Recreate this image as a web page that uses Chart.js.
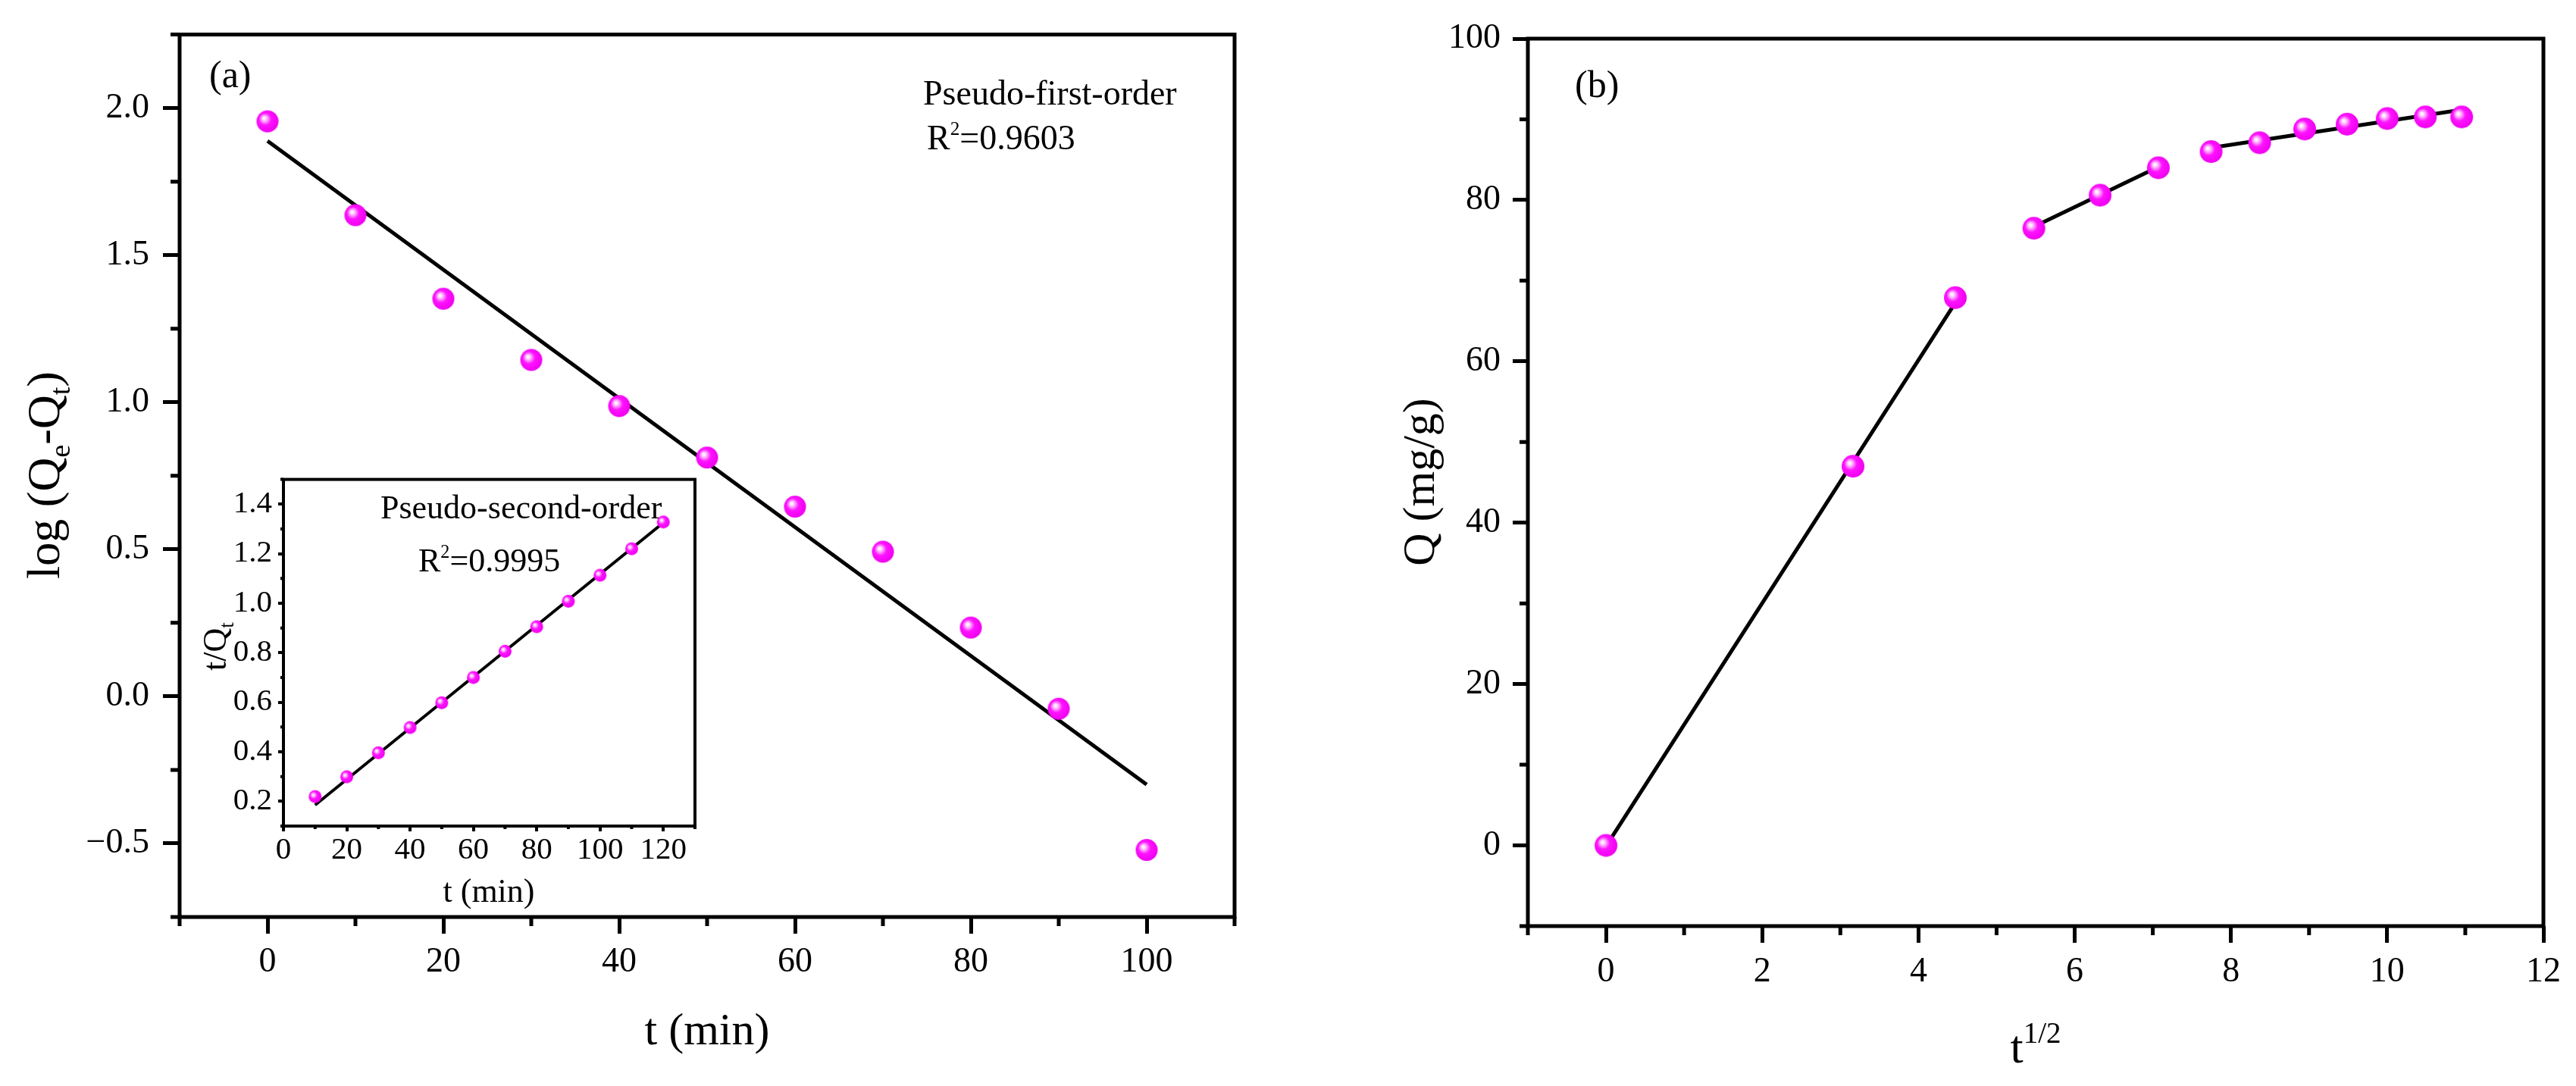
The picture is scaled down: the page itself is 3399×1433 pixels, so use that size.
<!DOCTYPE html>
<html><head><meta charset="utf-8">
<script src="https://cdn.jsdelivr.net/npm/chart.js@4.4.1/dist/chart.umd.min.js"></script>
<style>
html,body{margin:0;padding:0;background:#fff;width:3399px;height:1433px;overflow:hidden;position:relative}
canvas{position:absolute;display:block}
</style></head><body>
<canvas id="ca" width="1700" height="1433" style="left:0;top:0"></canvas>
<canvas id="cb" width="1699" height="1433" style="left:1700px;top:0"></canvas>
<canvas id="ci" width="700" height="620" style="left:250px;top:600px"></canvas>
<script>
// ---------- data: panel (a) pseudo-first-order ----------
const tA = [0, 10, 20, 30, 40, 50, 60, 70, 80, 90, 100];
const logQA = [1.955, 1.636, 1.352, 1.144, 0.987, 0.812, 0.645, 0.492, 0.234, -0.042, -0.522];
const fitAx = [0, 100];
const fitAy = [1.888, -0.30];
const xTicksA = [0, 20, 40, 60, 80, 100];
const yTicksA = [-0.5, 0, 0.5, 1.0, 1.5, 2.0];
const xMinorA = [-10, 10, 30, 50, 70, 90, 110];
const yMinorA = [-0.75, -0.25, 0.25, 0.75, 1.25, 1.75, 2.25];

// ---------- data: inset pseudo-second-order ----------
const tIn = [10, 20, 30, 40, 50, 60, 70, 80, 90, 100, 110, 120];
const tOverQ = [0.219, 0.299, 0.396, 0.498, 0.598, 0.700, 0.806, 0.905, 1.008, 1.113, 1.220, 1.328];
const fitInX = [10, 120];
const fitInY = [0.185, 1.325];
const xTicksIn = [0, 20, 40, 60, 80, 100, 120];
const yTicksIn = [0.2, 0.4, 0.6, 0.8, 1.0, 1.2, 1.4];
const xMinorIn = [10, 30, 50, 70, 90, 110, 130];
const yMinorIn = [0.1, 0.3, 0.5, 0.7, 0.9, 1.1, 1.3, 1.5];

// ---------- data: panel (b) intraparticle diffusion ----------
const sqrtT = [0, 3.162, 4.472, 5.477, 6.325, 7.071, 7.746, 8.367, 8.944, 9.487, 10.0, 10.488, 10.954];
const QB = [0, 47.0, 67.9, 76.5, 80.6, 84.0, 86.0, 87.1, 88.8, 89.4, 90.1, 90.3, 90.3];
const fit1X = [0, 4.48],   fit1Y = [-0.1, 67.4];
const fit2X = [5.46, 7.09], fit2Y = [76.6, 84.2];
const fit3X = [7.76, 10.96], fit3Y = [86.5, 91.2];
const xTicksB = [0, 2, 4, 6, 8, 10, 12];
const yTicksB = [0, 20, 40, 60, 80, 100];
const xMinorB = [-1, 1, 3, 5, 7, 9, 11];
const yMinorB = [-10, 10, 30, 50, 70, 90];

// ---------- helpers ----------
const FAM = "'Liberation Serif', 'Times New Roman', serif";
const pts = (xs, ys) => xs.map((x, i) => ({x: x, y: ys[i]}));
const fmt1 = v => (v < 0 ? '\u2212' : '') + Math.abs(v).toFixed(1);
const fmtInt = v => String(v);

function sphere(r) {
  const s = Math.ceil(2 * r + 2);
  const c = document.createElement('canvas');
  c.width = s; c.height = s;
  const g = c.getContext('2d');
  const cx = s / 2, cy = s / 2;
  const grad = g.createRadialGradient(cx - 0.32 * r, cy - 0.3 * r, 0, cx - 0.12 * r, cy - 0.1 * r, r * 1.1);
  grad.addColorStop(0, '#ffffff');
  grad.addColorStop(0.12, '#ffe6ff');
  grad.addColorStop(0.3, '#ff8cff');
  grad.addColorStop(0.5, '#ff14ff');
  grad.addColorStop(1, '#f000f0');
  g.fillStyle = grad;
  g.beginPath(); g.arc(cx, cy, r, 0, Math.PI * 2); g.fill();
  return c;
}

function linScale(pos, min, max, ticksArr, fmt, fontSize, tickLen, tickW, pad, size) {
  return {
    type: 'linear', position: pos, min: min, max: max,
    afterBuildTicks: s => { s.ticks = ticksArr.map(v => ({value: v})); },
    afterFit: s => { if (pos === 'left' || pos === 'right') s.width = size; else s.height = size; },
    grid: {display: true, drawOnChartArea: false, drawTicks: true, tickLength: tickLen,
           tickWidth: tickW, lineWidth: tickW, tickColor: '#000', color: '#000'},
    border: {display: false},
    ticks: {color: '#000', font: {size: fontSize, family: FAM}, padding: pad,
            callback: v => fmt(v), maxRotation: 0, minRotation: 0, autoSkip: false},
    title: {display: false}
  };
}

function drawRich(ctx, t) {
  const S = t.size;
  let w = 0;
  const parts = t.segs.map(s => {
    const sz = (s.sub || s.sup) ? S * (t.scr || 0.6) : S;
    ctx.font = sz + 'px ' + FAM;
    const mw = ctx.measureText(s.t).width;
    const dy = s.sub ? S * 0.22 : (s.sup ? -S * 0.42 : 0);
    w += mw;
    return {t: s.t, sz: sz, dy: dy, mw: mw};
  });
  ctx.save();
  ctx.translate(t.x, t.y);
  if (t.rot) ctx.rotate(t.rot);
  let x0 = t.align === 'center' ? -w / 2 : 0;
  ctx.fillStyle = '#000';
  ctx.textBaseline = 'alphabetic';
  ctx.textAlign = 'left';
  for (const p of parts) { ctx.font = p.sz + 'px ' + FAM; ctx.fillText(p.t, x0, p.dy); x0 += p.mw; }
  ctx.restore();
}

function mkDeco(o) {
  return {
    id: 'deco',
    beforeDatasetsDraw(chart) {
      if (o.white) {
        const a = chart.chartArea, ctx = chart.ctx;
        ctx.save(); ctx.fillStyle = '#fff';
        ctx.fillRect(a.left, a.top, a.right - a.left, a.bottom - a.top);
        ctx.restore();
      }
    },
    afterDraw(chart) {
      const ctx = chart.ctx, a = chart.chartArea;
      ctx.save();
      ctx.strokeStyle = '#000';
      ctx.lineCap = 'butt';
      o.minor.forEach(m => {
        const sc = chart.scales[m.axis];
        ctx.lineWidth = m.width;
        ctx.beginPath();
        m.values.forEach(v => {
          const p = sc.getPixelForValue(v);
          if (m.axis === 'x') { ctx.moveTo(p, a.bottom); ctx.lineTo(p, a.bottom + m.len); }
          else { ctx.moveTo(a.left, p); ctx.lineTo(a.left - m.len, p); }
        });
        ctx.stroke();
      });
      ctx.lineWidth = o.frame;
      ctx.strokeRect(a.left, a.top, a.right - a.left, a.bottom - a.top);
      o.texts.forEach(t => drawRich(ctx, t));
      ctx.restore();
    }
  };
}

const baseOpts = (padding, scales) => ({
  responsive: false, animation: false, devicePixelRatio: 1, events: [],
  layout: {padding: padding},
  plugins: {legend: {display: false}, tooltip: {enabled: false}},
  scales: scales
});

// ---------- panel (a) ----------
new Chart(document.getElementById('ca'), {
  type: 'scatter',
  data: {datasets: [
    {label: 'Linear fit', data: pts(fitAx, fitAy), showLine: true, borderColor: '#000', borderWidth: 5,
     pointRadius: 0, order: 2},
    {label: 'log(Qe-Qt)', data: pts(tA, logQA), showLine: false, pointStyle: sphere(14.5), pointRadius: 14, order: 1}
  ]},
  options: baseOpts({left: 0, top: 42, right: 71, bottom: 0}, {
    x: linScale('bottom', -10, 110, xTicksA, fmtInt, 46, 22, 5, 10, 223),
    y: linScale('left', -0.75, 2.25, yTicksA, fmt1, 46, 22, 5, 18, 237)
  }),
  plugins: [mkDeco({
    frame: 5,
    minor: [{axis: 'x', values: xMinorA, len: 12, width: 5}, {axis: 'y', values: yMinorA, len: 12, width: 5}],
    texts: [
      {x: 276, y: 115, size: 50, segs: [{t: '(a)'}]},
      {x: 1218, y: 138, size: 46, segs: [{t: 'Pseudo-first-order'}]},
      {x: 1223, y: 197, size: 46, scr: 0.55, segs: [{t: 'R'}, {t: '2', sup: true}, {t: '=0.9603'}]},
      {x: 933, y: 1378, size: 60, align: 'center', segs: [{t: 't (min)'}]},
      {x: 78, y: 627, size: 62, align: 'center', rot: -Math.PI / 2, scr: 0.62,
       segs: [{t: 'log (Q'}, {t: 'e', sub: true}, {t: '-Q'}, {t: 't', sub: true}, {t: ')'}]}
    ]
  })]
});

// ---------- inset ----------
new Chart(document.getElementById('ci'), {
  type: 'scatter',
  data: {datasets: [
    {label: 'Linear fit', data: pts(fitInX, fitInY), showLine: true, borderColor: '#000', borderWidth: 4,
     pointRadius: 0, order: 2},
    {label: 't/Qt', data: pts(tIn, tOverQ), showLine: false, pointStyle: sphere(8.5), pointRadius: 8, order: 1}
  ]},
  options: baseOpts({left: 0, top: 17, right: 33, bottom: 0}, {
    x: linScale('bottom', 0, 130, xTicksIn, fmtInt, 41, 7, 4, 1, 130),
    y: linScale('left', 0.1, 1.5, yTicksIn, fmt1, 41, 7, 4, 8, 124)
  }),
  plugins: [mkDeco({
    frame: 4, white: true,
    minor: [{axis: 'x', values: xMinorIn, len: 4, width: 4}, {axis: 'y', values: yMinorIn, len: 4, width: 4}],
    texts: [
      {x: 252, y: 84, size: 44, segs: [{t: 'Pseudo-second-order'}]},
      {x: 302, y: 154, size: 44, scr: 0.55, segs: [{t: 'R'}, {t: '2', sup: true}, {t: '=0.9995'}]},
      {x: 395, y: 590, size: 44, align: 'center', segs: [{t: 't (min)'}]},
      {x: 48, y: 253, size: 44, align: 'center', rot: -Math.PI / 2, scr: 0.62,
       segs: [{t: 't/Q'}, {t: 't', sub: true}]}
    ]
  })]
});

// ---------- panel (b) ----------
new Chart(document.getElementById('cb'), {
  type: 'scatter',
  data: {datasets: [
    {label: 'Fit 1', data: pts(fit1X, fit1Y), showLine: true, borderColor: '#000', borderWidth: 5, pointRadius: 0, order: 2},
    {label: 'Fit 2', data: pts(fit2X, fit2Y), showLine: true, borderColor: '#000', borderWidth: 5, pointRadius: 0, order: 2},
    {label: 'Fit 3', data: pts(fit3X, fit3Y), showLine: true, borderColor: '#000', borderWidth: 5, pointRadius: 0, order: 2},
    {label: 'Q', data: pts(sqrtT, QB), showLine: false, pointStyle: sphere(15), pointRadius: 14, order: 1}
  ]},
  options: baseOpts({left: 0, top: 51, right: 43, bottom: 0}, {
    x: linScale('bottom', -1, 12, xTicksB, fmtInt, 46, 22, 5, 11, 211),
    y: linScale('left', -10, 100, yTicksB, fmtInt, 46, 20, 5, 16, 316)
  }),
  plugins: [mkDeco({
    frame: 5,
    minor: [{axis: 'x', values: xMinorB, len: 12, width: 5}, {axis: 'y', values: yMinorB, len: 11, width: 5}],
    texts: [
      {x: 378, y: 128, size: 50, segs: [{t: '(b)'}]},
      {x: 986, y: 1402, size: 62, align: 'center', scr: 0.63, segs: [{t: 't'}, {t: '1/2', sup: true}]},
      {x: 192, y: 636, size: 60, align: 'center', rot: -Math.PI / 2, segs: [{t: 'Q (mg/g)'}]}
    ]
  })]
});
</script>
</body></html>
